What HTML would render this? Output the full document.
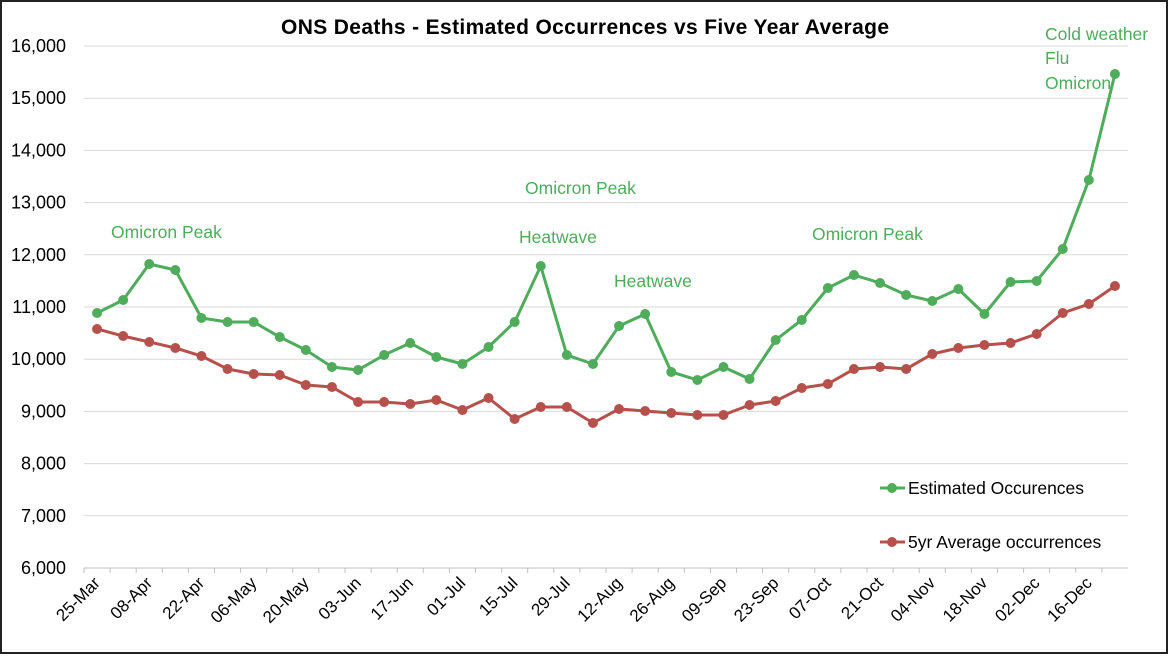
<!DOCTYPE html>
<html><head><meta charset="utf-8"><style>
body{margin:0;background:#fff;}
svg text{font-family:"Liberation Sans",sans-serif;}
</style></head><body>
<svg id="chart" width="1170" height="655" xmlns="http://www.w3.org/2000/svg">
<rect x="1" y="1" width="1166" height="652" fill="#fff" stroke="#222" stroke-width="2"/>
<text x="585" y="34" text-anchor="middle" font-size="21" font-weight="bold" fill="#000" textLength="608">ONS Deaths - Estimated Occurrences vs Five Year Average</text>
<g id="grid"></g><g id="axes"></g><g id="series"></g>
<g fill="#4eac5b" font-size="17.5">
<text x="111" y="238">Omicron Peak</text>
<text x="525" y="194">Omicron Peak</text>
<text x="519" y="243">Heatwave</text>
<text x="614" y="287">Heatwave</text>
<text x="812" y="240">Omicron Peak</text>
<text x="1045" y="40">Cold weather</text>
<text x="1045" y="64">Flu</text>
<text x="1045" y="89">Omicron</text>
</g>
<g>
<g><line x1="880" y1="488" x2="905" y2="488" stroke="#4eac5b" stroke-width="3"/><circle cx="892" cy="488" r="5" fill="#4eac5b"/><text x="908" y="494" font-size="17.5" fill="#000">Estimated Occurences</text></g>
<g><line x1="880" y1="542" x2="905" y2="542" stroke="#b5504b" stroke-width="3"/><circle cx="892" cy="542" r="5" fill="#b5504b"/><text x="908" y="548" font-size="17.5" fill="#000">5yr Average occurrences</text></g>
</g>
</svg>
<script>
const categories=["25-Mar","01-Apr","08-Apr","15-Apr","22-Apr","29-Apr","06-May","13-May","20-May","27-May","03-Jun","10-Jun","17-Jun","24-Jun","01-Jul","08-Jul","15-Jul","22-Jul","29-Jul","05-Aug","12-Aug","19-Aug","26-Aug","02-Sep","09-Sep","16-Sep","23-Sep","30-Sep","07-Oct","14-Oct","21-Oct","28-Oct","04-Nov","11-Nov","18-Nov","25-Nov","02-Dec","09-Dec","16-Dec","23-Dec"];
const estimated=[10885,11134,11824,11709,10789,10713,10713,10425,10176,9851,9793,10080,10310,10042,9908,10234,10713,11785,10080,9908,10636,10866,9755,9602,9851,9621,10368,10751,11364,11613,11460,11230,11115,11345,10866,11479,11498,12111,13433,15464];
const average=[10579,10444,10330,10215,10061,9812,9716,9697,9506,9467,9180,9180,9142,9218,9027,9257,8854,9084,9084,8778,9046,9008,8969,8931,8931,9123,9199,9448,9525,9812,9851,9812,10100,10215,10272,10310,10483,10885,11057,11402];
const yTicks=[6000,7000,8000,9000,10000,11000,12000,13000,14000,15000,16000];
const NS="http://www.w3.org/2000/svg";
const x0=84,step=26.1,yMin=6000,yMax=16000,yB=568,yT=46;
const xs=i=>x0+step*(i+0.5);
const ys=v=>yB-(v-yMin)/(yMax-yMin)*(yB-yT);
function mk(t,a,p){const e=document.createElementNS(NS,t);for(const k in a)e.setAttribute(k,a[k]);p.appendChild(e);return e;}
const grid=document.getElementById('grid'),axes=document.getElementById('axes'),ser=document.getElementById('series');
const xEnd=x0+step*categories.length;
yTicks.forEach(v=>{
 const l=mk('line',{x1:x0,x2:xEnd,y1:ys(v),y2:ys(v),stroke:'#d9d9d9','stroke-width':1},grid);
 
 
 const t=mk('text',{x:66,y:ys(v)+6,'text-anchor':'end','font-size':'18',fill:'#000'},axes);
 t.textContent=v.toLocaleString('en-US');
 
 
});
const ax=mk('line',{x1:x0,x2:xEnd,y1:yB,y2:yB,stroke:'#bfbfbf','stroke-width':1},axes);


categories.forEach((c,i)=>{
 const tk=mk('line',{x1:x0+step*i,x2:x0+step*i,y1:yB,y2:yB+5,stroke:'#bfbfbf'},axes);
 
 
 if(i%2===0){
  const X=xs(i)+4,Y=yB+16;
  const t=mk('text',{x:X,y:Y,'text-anchor':'end','font-size':'17',fill:'#000',transform:`rotate(-45 ${X} ${Y})`},axes);
  t.textContent=c;
  
  
 }
});
function draw(data,color,name){
 const g=mk('g',{},ser);
 
 
 const p=mk('polyline',{points:data.map((v,i)=>xs(i)+','+ys(v)).join(' '),fill:'none',stroke:color,'stroke-width':3,'stroke-linejoin':'round'},g);
 
 
 data.forEach((v,i)=>{
  const c=mk('circle',{cx:xs(i),cy:ys(v),r:5,fill:color},g);
  
  
 });
}
draw(average,'#b5504b','average-series');
draw(estimated,'#4eac5b','estimated-series');
</script>
</body></html>
